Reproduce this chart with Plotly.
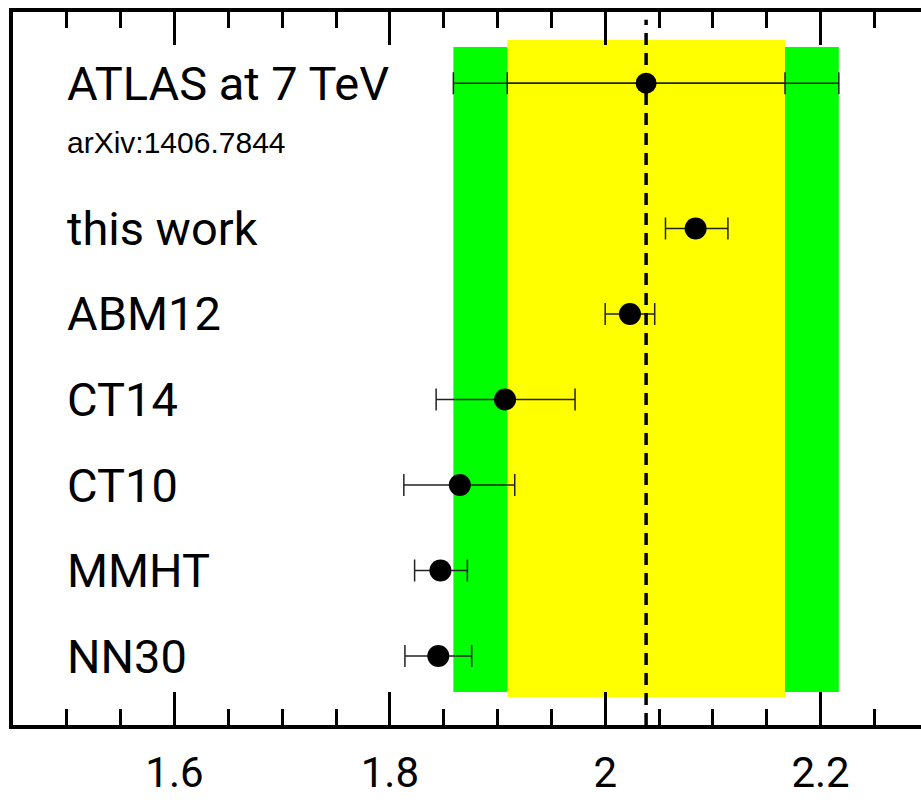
import plotly.graph_objects as go

# ---- data ----
pdf_names = ["this work", "ABM12", "CT14", "CT10", "MMHT", "NN30"]
pdf_values = [2.084, 2.023, 1.907, 1.865, 1.847, 1.845]
pdf_err_minus = [0.028, 0.023, 0.064, 0.052, 0.024, 0.031]
pdf_err_plus = [0.030, 0.023, 0.065, 0.051, 0.025, 0.031]
pdf_rows = [6, 5, 4, 3, 2, 1]

atlas_label = "ATLAS at 7 TeV"
atlas_ref = "arXiv:1406.7844"
atlas_value = 2.038
atlas_err_inner = 0.129
atlas_err_outer = 0.179
atlas_row = 7.7

x_ticks = [1.6, 1.8, 2.0, 2.2]
x_tick_text = ["1.6", "1.8", "2", "2.2"]

BIG = "Roboto, Liberation Sans, Arial, sans-serif"
SMALL = "Liberation Sans, Arial, sans-serif"

fig = go.Figure()

y_lo, y_hi = 0.193, 8.532

# bands
fig.add_shape(type="rect", xref="x", yref="y",
              x0=atlas_value - atlas_err_outer, x1=atlas_value + atlas_err_outer,
              y0=0.579, y1=8.123, fillcolor="#00FF00", line_width=0, layer="below")
fig.add_shape(type="rect", xref="x", yref="y",
              x0=atlas_value - atlas_err_inner, x1=atlas_value + atlas_err_inner,
              y0=0.520, y1=8.205, fillcolor="#FFFF00", line_width=0, layer="below")

# dashed central line
fig.add_shape(type="line", xref="x", yref="y",
              x0=atlas_value, x1=atlas_value, y0=y_lo, y1=8.44,
              line=dict(color="black", width=3.5, dash="12px,8px"))

# ATLAS error bars (outer and inner)
fig.add_trace(go.Scatter(
    x=[atlas_value], y=[atlas_row], mode="markers",
    marker=dict(size=0.1, color="rgba(0,0,0,0)"),
    error_x=dict(type="data", symmetric=True, array=[atlas_err_outer],
                 color="#222", thickness=1.5, width=11),
    showlegend=False, hoverinfo="skip"))
fig.add_trace(go.Scatter(
    x=[atlas_value], y=[atlas_row], mode="markers",
    marker=dict(size=21, color="black"),
    error_x=dict(type="data", symmetric=True, array=[atlas_err_inner],
                 color="#222", thickness=1.5, width=11),
    showlegend=False))

# PDF predictions
fig.add_trace(go.Scatter(
    x=pdf_values, y=pdf_rows, mode="markers",
    marker=dict(size=22, color="black"),
    error_x=dict(type="data", symmetric=False, array=pdf_err_plus,
                 arrayminus=pdf_err_minus, color="#222", thickness=1.5, width=11),
    showlegend=False))

# labels
for name, row in zip(pdf_names, pdf_rows):
    fig.add_annotation(x=1.4985, y=row, xref="x", yref="y", text=name,
                       showarrow=False, xanchor="left", yanchor="middle",
                       font=dict(family=BIG, size=47, color="black"))
fig.add_annotation(x=1.4985, y=atlas_row, xref="x", yref="y", text=atlas_label,
                   showarrow=False, xanchor="left", yanchor="middle",
                   font=dict(family=BIG, size=47, color="black"))
fig.add_annotation(x=1.4985, y=atlas_row, xref="x", yref="y", text=atlas_ref,
                   showarrow=False, xanchor="left", yanchor="middle", yshift=-59,
                   font=dict(family=SMALL, size=30, color="black"))

fig.update_layout(
    width=921, height=803,
    margin=dict(l=13, r=0, t=12, b=78, autoexpand=False),
    paper_bgcolor="white", plot_bgcolor="white",
    xaxis=dict(range=[1.45, 1.45 + 908 / 1076.7], showgrid=False, zeroline=False,
               automargin=False,
               showline=True, linewidth=3.5, linecolor="black", mirror="ticks",
               ticks="inside", ticklen=33, tickwidth=2.5, tickcolor="black",
               tickvals=x_ticks, ticktext=x_tick_text,
               tickfont=dict(family=BIG, size=42, color="black"),
               ticklabelstandoff=8,
               minor=dict(dtick=0.05, tick0=1.5, ticks="inside", ticklen=16,
                          tickwidth=2.5, tickcolor="black", showgrid=False)),
    yaxis=dict(range=[y_lo, y_hi], showgrid=False, zeroline=False, automargin=False,
               showline=True, linewidth=3.5, linecolor="black", mirror=False,
               showticklabels=False, ticks=""),
)

fig.write_html("out.html")
